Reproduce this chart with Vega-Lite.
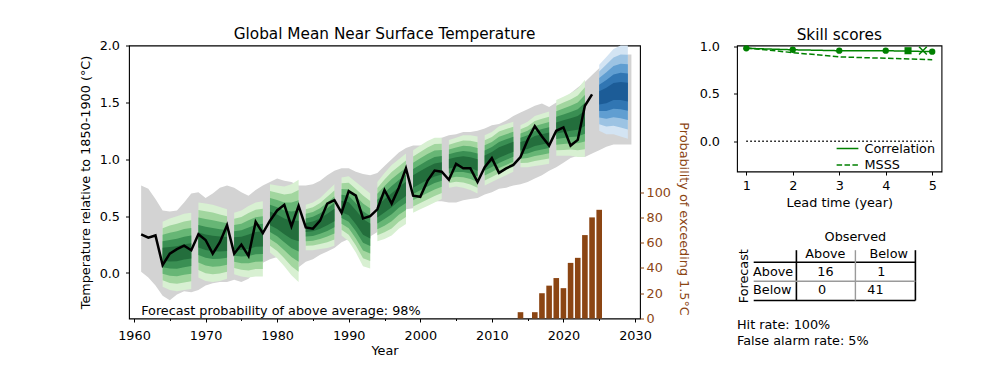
{
  "$schema": "https://vega.github.io/schema/vega-lite/v6.json",
  "background": "white",
  "padding": {"left": 78, "top": 26.5, "right": 0, "bottom": 0},
  "config": {
    "font": "DejaVu Sans",
    "view": {"stroke": "black", "strokeWidth": 1.1},
    "axis": {"labelFont": "DejaVu Sans", "labelFontSize": 12.8, "labelColor": "black", "titleFont": "DejaVu Sans", "titleFontSize": 12.8, "titleFontWeight": "normal", "titleColor": "black", "tickColor": "black", "tickSize": 3.5, "tickWidth": 1, "domain": false, "grid": false, "labelPadding": 4, "labelFlush": false, "labelOverlap": false, "titlePadding": 5},
    "title": {"font": "DejaVu Sans", "fontSize": 15.3, "fontWeight": "normal", "color": "black", "frame": "group", "anchor": "middle", "baseline": "alphabetic", "offset": -3},
    "text": {"font": "DejaVu Sans", "fontSize": 12.8, "color": "black"},
    "legend": {"labelFont": "DejaVu Sans", "labelFontSize": 12.8, "labelColor": "black"}
  },
  "datasets": {
    "grey": [
      {"year": 1961, "lo": 0.01, "hi": 0.77}, {"year": 1962, "lo": -0.04, "hi": 0.74}, {"year": 1963, "lo": -0.11, "hi": 0.65},
      {"year": 1964, "lo": -0.2, "hi": 0.55}, {"year": 1965, "lo": -0.24, "hi": 0.54}, {"year": 1966, "lo": -0.19, "hi": 0.55},
      {"year": 1967, "lo": -0.16, "hi": 0.62}, {"year": 1968, "lo": -0.17, "hi": 0.7}, {"year": 1969, "lo": -0.15, "hi": 0.71},
      {"year": 1970, "lo": -0.11, "hi": 0.66}, {"year": 1971, "lo": -0.09, "hi": 0.7}, {"year": 1972, "lo": -0.08, "hi": 0.75},
      {"year": 1973, "lo": -0.08, "hi": 0.77}, {"year": 1974, "lo": -0.06, "hi": 0.75}, {"year": 1975, "lo": -0.08, "hi": 0.71},
      {"year": 1976, "lo": -0.05, "hi": 0.68}, {"year": 1977, "lo": 0.02, "hi": 0.73}, {"year": 1978, "lo": 0.09, "hi": 0.77},
      {"year": 1979, "lo": 0.12, "hi": 0.8}, {"year": 1980, "lo": 0.14, "hi": 0.83}, {"year": 1981, "lo": 0.15, "hi": 0.81},
      {"year": 1982, "lo": 0.12, "hi": 0.8}, {"year": 1983, "lo": 0.05, "hi": 0.77}, {"year": 1984, "lo": 0.1, "hi": 0.77},
      {"year": 1985, "lo": 0.12, "hi": 0.78}, {"year": 1986, "lo": 0.16, "hi": 0.81}, {"year": 1987, "lo": 0.19, "hi": 0.86},
      {"year": 1988, "lo": 0.22, "hi": 0.9}, {"year": 1989, "lo": 0.27, "hi": 0.92}, {"year": 1990, "lo": 0.3, "hi": 0.92},
      {"year": 1991, "lo": 0.29, "hi": 0.89}, {"year": 1992, "lo": 0.3, "hi": 0.87}, {"year": 1993, "lo": 0.32, "hi": 0.86},
      {"year": 1994, "lo": 0.36, "hi": 0.88}, {"year": 1995, "lo": 0.42, "hi": 0.94}, {"year": 1996, "lo": 0.47, "hi": 1.0},
      {"year": 1997, "lo": 0.52, "hi": 1.06}, {"year": 1998, "lo": 0.56, "hi": 1.1}, {"year": 1999, "lo": 0.57, "hi": 1.12},
      {"year": 2000, "lo": 0.6, "hi": 1.12}, {"year": 2001, "lo": 0.63, "hi": 1.14}, {"year": 2002, "lo": 0.63, "hi": 1.18},
      {"year": 2003, "lo": 0.63, "hi": 1.19}, {"year": 2004, "lo": 0.62, "hi": 1.21}, {"year": 2005, "lo": 0.62, "hi": 1.22},
      {"year": 2006, "lo": 0.64, "hi": 1.24}, {"year": 2007, "lo": 0.65, "hi": 1.24}, {"year": 2008, "lo": 0.66, "hi": 1.25},
      {"year": 2009, "lo": 0.69, "hi": 1.27}, {"year": 2010, "lo": 0.71, "hi": 1.3}, {"year": 2011, "lo": 0.74, "hi": 1.31},
      {"year": 2012, "lo": 0.75, "hi": 1.34}, {"year": 2013, "lo": 0.77, "hi": 1.38}, {"year": 2014, "lo": 0.78, "hi": 1.41},
      {"year": 2015, "lo": 0.8, "hi": 1.44}, {"year": 2016, "lo": 0.83, "hi": 1.47}, {"year": 2017, "lo": 0.86, "hi": 1.49},
      {"year": 2018, "lo": 0.9, "hi": 1.46}, {"year": 2019, "lo": 0.93, "hi": 1.5}, {"year": 2020, "lo": 0.97, "hi": 1.53},
      {"year": 2021, "lo": 1.01, "hi": 1.58}, {"year": 2022, "lo": 1.03, "hi": 1.63}, {"year": 2023, "lo": 1.02, "hi": 1.68},
      {"year": 2024, "lo": 1.05, "hi": 1.74}, {"year": 2025, "lo": 1.08, "hi": 1.8}, {"year": 2026, "lo": 1.11, "hi": 1.85},
      {"year": 2027, "lo": 1.13, "hi": 1.89}, {"year": 2028, "lo": 1.13, "hi": 1.91}, {"year": 2029, "lo": 1.13, "hi": 1.92},
      {"year": 2029.5, "lo": 1.13, "hi": 1.92}
    ],
    "bands": [
      {"s": "A", "k": "h", "year": 1964, "a1": -0.12, "b1": 0.45, "a2": -0.063, "b2": 0.393, "a3": -0.006, "b3": 0.336, "a4": 0.051, "b4": 0.279, "a5": 0.108, "b5": 0.222},
      {"s": "A", "k": "h", "year": 1965, "a1": -0.15, "b1": 0.48, "a2": -0.087, "b2": 0.417, "a3": -0.024, "b3": 0.354, "a4": 0.039, "b4": 0.291, "a5": 0.102, "b5": 0.228},
      {"s": "A", "k": "h", "year": 1966, "a1": -0.16, "b1": 0.5, "a2": -0.094, "b2": 0.434, "a3": -0.028, "b3": 0.368, "a4": 0.038, "b4": 0.302, "a5": 0.104, "b5": 0.236},
      {"s": "A", "k": "h", "year": 1967, "a1": -0.15, "b1": 0.52, "a2": -0.083, "b2": 0.453, "a3": -0.016, "b3": 0.386, "a4": 0.051, "b4": 0.319, "a5": 0.118, "b5": 0.252},
      {"s": "A", "k": "h", "year": 1968, "a1": -0.14, "b1": 0.53, "a2": -0.073, "b2": 0.463, "a3": -0.006, "b3": 0.396, "a4": 0.061, "b4": 0.329, "a5": 0.128, "b5": 0.262},
      {"s": "B", "k": "h", "year": 1969, "a1": -0.04, "b1": 0.62, "a2": 0.026, "b2": 0.554, "a3": 0.092, "b3": 0.488, "a4": 0.158, "b4": 0.422, "a5": 0.224, "b5": 0.356},
      {"s": "B", "k": "h", "year": 1970, "a1": -0.07, "b1": 0.61, "a2": -0.002, "b2": 0.542, "a3": 0.066, "b3": 0.474, "a4": 0.134, "b4": 0.406, "a5": 0.202, "b5": 0.338},
      {"s": "B", "k": "h", "year": 1971, "a1": -0.08, "b1": 0.6, "a2": -0.012, "b2": 0.532, "a3": 0.056, "b3": 0.464, "a4": 0.124, "b4": 0.396, "a5": 0.192, "b5": 0.328},
      {"s": "B", "k": "h", "year": 1972, "a1": -0.07, "b1": 0.58, "a2": -0.005, "b2": 0.515, "a3": 0.06, "b3": 0.45, "a4": 0.125, "b4": 0.385, "a5": 0.19, "b5": 0.32},
      {"s": "B", "k": "h", "year": 1973, "a1": -0.05, "b1": 0.56, "a2": 0.011, "b2": 0.499, "a3": 0.072, "b3": 0.438, "a4": 0.133, "b4": 0.377, "a5": 0.194, "b5": 0.316},
      {"s": "C", "k": "h", "year": 1974, "a1": -0.01, "b1": 0.53, "a2": 0.044, "b2": 0.476, "a3": 0.098, "b3": 0.422, "a4": 0.152, "b4": 0.368, "a5": 0.206, "b5": 0.314},
      {"s": "C", "k": "h", "year": 1975, "a1": -0.03, "b1": 0.55, "a2": 0.028, "b2": 0.492, "a3": 0.086, "b3": 0.434, "a4": 0.144, "b4": 0.376, "a5": 0.202, "b5": 0.318},
      {"s": "C", "k": "h", "year": 1976, "a1": -0.04, "b1": 0.59, "a2": 0.023, "b2": 0.527, "a3": 0.086, "b3": 0.464, "a4": 0.149, "b4": 0.401, "a5": 0.212, "b5": 0.338},
      {"s": "C", "k": "h", "year": 1977, "a1": -0.03, "b1": 0.62, "a2": 0.035, "b2": 0.555, "a3": 0.1, "b3": 0.49, "a4": 0.165, "b4": 0.425, "a5": 0.23, "b5": 0.36},
      {"s": "C", "k": "h", "year": 1978, "a1": -0.03, "b1": 0.63, "a2": 0.036, "b2": 0.564, "a3": 0.102, "b3": 0.498, "a4": 0.168, "b4": 0.432, "a5": 0.234, "b5": 0.366},
      {"s": "D", "k": "h", "year": 1979, "a1": 0.18, "b1": 0.78, "a2": 0.24, "b2": 0.72, "a3": 0.3, "b3": 0.66, "a4": 0.36, "b4": 0.6, "a5": 0.42, "b5": 0.54},
      {"s": "D", "k": "h", "year": 1980, "a1": 0.13, "b1": 0.77, "a2": 0.194, "b2": 0.706, "a3": 0.258, "b3": 0.642, "a4": 0.322, "b4": 0.578, "a5": 0.386, "b5": 0.514},
      {"s": "D", "k": "h", "year": 1981, "a1": 0.06, "b1": 0.76, "a2": 0.13, "b2": 0.69, "a3": 0.2, "b3": 0.62, "a4": 0.27, "b4": 0.55, "a5": 0.34, "b5": 0.48},
      {"s": "D", "k": "h", "year": 1982, "a1": -0.02, "b1": 0.78, "a2": 0.06, "b2": 0.7, "a3": 0.14, "b3": 0.62, "a4": 0.22, "b4": 0.54, "a5": 0.3, "b5": 0.46},
      {"s": "D", "k": "h", "year": 1983, "a1": -0.08, "b1": 0.82, "a2": 0.01, "b2": 0.73, "a3": 0.1, "b3": 0.64, "a4": 0.19, "b4": 0.55, "a5": 0.28, "b5": 0.46},
      {"s": "E", "k": "h", "year": 1984, "a1": 0.2, "b1": 0.6, "a2": 0.24, "b2": 0.56, "a3": 0.28, "b3": 0.52, "a4": 0.32, "b4": 0.48, "a5": 0.36, "b5": 0.44},
      {"s": "E", "k": "h", "year": 1985, "a1": 0.2, "b1": 0.62, "a2": 0.242, "b2": 0.578, "a3": 0.284, "b3": 0.536, "a4": 0.326, "b4": 0.494, "a5": 0.368, "b5": 0.452},
      {"s": "E", "k": "h", "year": 1986, "a1": 0.21, "b1": 0.66, "a2": 0.255, "b2": 0.615, "a3": 0.3, "b3": 0.57, "a4": 0.345, "b4": 0.525, "a5": 0.39, "b5": 0.48},
      {"s": "E", "k": "h", "year": 1987, "a1": 0.22, "b1": 0.72, "a2": 0.27, "b2": 0.67, "a3": 0.32, "b3": 0.62, "a4": 0.37, "b4": 0.57, "a5": 0.42, "b5": 0.52},
      {"s": "E", "k": "h", "year": 1988, "a1": 0.24, "b1": 0.78, "a2": 0.294, "b2": 0.726, "a3": 0.348, "b3": 0.672, "a4": 0.402, "b4": 0.618, "a5": 0.456, "b5": 0.564},
      {"s": "F", "k": "h", "year": 1989, "a1": 0.33, "b1": 0.84, "a2": 0.381, "b2": 0.789, "a3": 0.432, "b3": 0.738, "a4": 0.483, "b4": 0.687, "a5": 0.534, "b5": 0.636},
      {"s": "F", "k": "h", "year": 1990, "a1": 0.28, "b1": 0.85, "a2": 0.337, "b2": 0.793, "a3": 0.394, "b3": 0.736, "a4": 0.451, "b4": 0.679, "a5": 0.508, "b5": 0.622},
      {"s": "F", "k": "h", "year": 1991, "a1": 0.18, "b1": 0.8, "a2": 0.242, "b2": 0.738, "a3": 0.304, "b3": 0.676, "a4": 0.366, "b4": 0.614, "a5": 0.428, "b5": 0.552},
      {"s": "F", "k": "h", "year": 1992, "a1": 0.06, "b1": 0.75, "a2": 0.129, "b2": 0.681, "a3": 0.198, "b3": 0.612, "a4": 0.267, "b4": 0.543, "a5": 0.336, "b5": 0.474},
      {"s": "F", "k": "h", "year": 1993, "a1": 0.04, "b1": 0.7, "a2": 0.106, "b2": 0.634, "a3": 0.172, "b3": 0.568, "a4": 0.238, "b4": 0.502, "a5": 0.304, "b5": 0.436},
      {"s": "G", "k": "h", "year": 1994, "a1": 0.28, "b1": 0.8, "a2": 0.332, "b2": 0.748, "a3": 0.384, "b3": 0.696, "a4": 0.436, "b4": 0.644, "a5": 0.488, "b5": 0.592},
      {"s": "G", "k": "h", "year": 1995, "a1": 0.3, "b1": 0.88, "a2": 0.358, "b2": 0.822, "a3": 0.416, "b3": 0.764, "a4": 0.474, "b4": 0.706, "a5": 0.532, "b5": 0.648},
      {"s": "G", "k": "h", "year": 1996, "a1": 0.33, "b1": 0.95, "a2": 0.392, "b2": 0.888, "a3": 0.454, "b3": 0.826, "a4": 0.516, "b4": 0.764, "a5": 0.578, "b5": 0.702},
      {"s": "G", "k": "h", "year": 1997, "a1": 0.39, "b1": 1.0, "a2": 0.451, "b2": 0.939, "a3": 0.512, "b3": 0.878, "a4": 0.573, "b4": 0.817, "a5": 0.634, "b5": 0.756},
      {"s": "G", "k": "h", "year": 1998, "a1": 0.43, "b1": 1.05, "a2": 0.492, "b2": 0.988, "a3": 0.554, "b3": 0.926, "a4": 0.616, "b4": 0.864, "a5": 0.678, "b5": 0.802},
      {"s": "H", "k": "h", "year": 1999, "a1": 0.53, "b1": 1.08, "a2": 0.585, "b2": 1.025, "a3": 0.64, "b3": 0.97, "a4": 0.695, "b4": 0.915, "a5": 0.75, "b5": 0.86},
      {"s": "H", "k": "h", "year": 2000, "a1": 0.56, "b1": 1.12, "a2": 0.616, "b2": 1.064, "a3": 0.672, "b3": 1.008, "a4": 0.728, "b4": 0.952, "a5": 0.784, "b5": 0.896},
      {"s": "H", "k": "h", "year": 2001, "a1": 0.59, "b1": 1.16, "a2": 0.647, "b2": 1.103, "a3": 0.704, "b3": 1.046, "a4": 0.761, "b4": 0.989, "a5": 0.818, "b5": 0.932},
      {"s": "H", "k": "h", "year": 2002, "a1": 0.62, "b1": 1.19, "a2": 0.677, "b2": 1.133, "a3": 0.734, "b3": 1.076, "a4": 0.791, "b4": 1.019, "a5": 0.848, "b5": 0.962},
      {"s": "H", "k": "h", "year": 2003, "a1": 0.65, "b1": 1.19, "a2": 0.704, "b2": 1.136, "a3": 0.758, "b3": 1.082, "a4": 0.812, "b4": 1.028, "a5": 0.866, "b5": 0.974},
      {"s": "I", "k": "h", "year": 2004, "a1": 0.75, "b1": 1.17, "a2": 0.792, "b2": 1.128, "a3": 0.834, "b3": 1.086, "a4": 0.876, "b4": 1.044, "a5": 0.918, "b5": 1.002},
      {"s": "I", "k": "h", "year": 2005, "a1": 0.76, "b1": 1.19, "a2": 0.803, "b2": 1.147, "a3": 0.846, "b3": 1.104, "a4": 0.889, "b4": 1.061, "a5": 0.932, "b5": 1.018},
      {"s": "I", "k": "h", "year": 2006, "a1": 0.75, "b1": 1.21, "a2": 0.796, "b2": 1.164, "a3": 0.842, "b3": 1.118, "a4": 0.888, "b4": 1.072, "a5": 0.934, "b5": 1.026},
      {"s": "I", "k": "h", "year": 2007, "a1": 0.73, "b1": 1.21, "a2": 0.778, "b2": 1.162, "a3": 0.826, "b3": 1.114, "a4": 0.874, "b4": 1.066, "a5": 0.922, "b5": 1.018},
      {"s": "I", "k": "h", "year": 2008, "a1": 0.7, "b1": 1.2, "a2": 0.75, "b2": 1.15, "a3": 0.8, "b3": 1.1, "a4": 0.85, "b4": 1.05, "a5": 0.9, "b5": 1.0},
      {"s": "J", "k": "h", "year": 2009, "a1": 0.77, "b1": 1.21, "a2": 0.814, "b2": 1.166, "a3": 0.858, "b3": 1.122, "a4": 0.902, "b4": 1.078, "a5": 0.946, "b5": 1.034},
      {"s": "J", "k": "h", "year": 2010, "a1": 0.8, "b1": 1.24, "a2": 0.844, "b2": 1.196, "a3": 0.888, "b3": 1.152, "a4": 0.932, "b4": 1.108, "a5": 0.976, "b5": 1.064},
      {"s": "J", "k": "h", "year": 2011, "a1": 0.83, "b1": 1.29, "a2": 0.876, "b2": 1.244, "a3": 0.922, "b3": 1.198, "a4": 0.968, "b4": 1.152, "a5": 1.014, "b5": 1.106},
      {"s": "J", "k": "h", "year": 2012, "a1": 0.86, "b1": 1.31, "a2": 0.905, "b2": 1.265, "a3": 0.95, "b3": 1.22, "a4": 0.995, "b4": 1.175, "a5": 1.04, "b5": 1.13},
      {"s": "J", "k": "h", "year": 2013, "a1": 0.89, "b1": 1.33, "a2": 0.934, "b2": 1.286, "a3": 0.978, "b3": 1.242, "a4": 1.022, "b4": 1.198, "a5": 1.066, "b5": 1.154},
      {"s": "K", "k": "h", "year": 2014, "a1": 0.93, "b1": 1.3, "a2": 0.967, "b2": 1.263, "a3": 1.004, "b3": 1.226, "a4": 1.041, "b4": 1.189, "a5": 1.078, "b5": 1.152},
      {"s": "K", "k": "h", "year": 2015, "a1": 0.93, "b1": 1.33, "a2": 0.97, "b2": 1.29, "a3": 1.01, "b3": 1.25, "a4": 1.05, "b4": 1.21, "a5": 1.09, "b5": 1.17},
      {"s": "K", "k": "h", "year": 2016, "a1": 0.94, "b1": 1.38, "a2": 0.984, "b2": 1.336, "a3": 1.028, "b3": 1.292, "a4": 1.072, "b4": 1.248, "a5": 1.116, "b5": 1.204},
      {"s": "K", "k": "h", "year": 2017, "a1": 0.95, "b1": 1.4, "a2": 0.995, "b2": 1.355, "a3": 1.04, "b3": 1.31, "a4": 1.085, "b4": 1.265, "a5": 1.13, "b5": 1.22},
      {"s": "K", "k": "h", "year": 2018, "a1": 0.96, "b1": 1.42, "a2": 1.006, "b2": 1.374, "a3": 1.052, "b3": 1.328, "a4": 1.098, "b4": 1.282, "a5": 1.144, "b5": 1.236},
      {"s": "L", "k": "h", "year": 2019, "a1": 1.03, "b1": 1.52, "a2": 1.079, "b2": 1.471, "a3": 1.128, "b3": 1.422, "a4": 1.177, "b4": 1.373, "a5": 1.226, "b5": 1.324},
      {"s": "L", "k": "h", "year": 2020, "a1": 1.03, "b1": 1.55, "a2": 1.082, "b2": 1.498, "a3": 1.134, "b3": 1.446, "a4": 1.186, "b4": 1.394, "a5": 1.238, "b5": 1.342},
      {"s": "L", "k": "h", "year": 2021, "a1": 1.03, "b1": 1.58, "a2": 1.085, "b2": 1.525, "a3": 1.14, "b3": 1.47, "a4": 1.195, "b4": 1.415, "a5": 1.25, "b5": 1.36},
      {"s": "L", "k": "h", "year": 2022, "a1": 1.02, "b1": 1.62, "a2": 1.08, "b2": 1.56, "a3": 1.14, "b3": 1.5, "a4": 1.2, "b4": 1.44, "a5": 1.26, "b5": 1.38},
      {"s": "L", "k": "h", "year": 2023, "a1": 1.02, "b1": 1.7, "a2": 1.088, "b2": 1.632, "a3": 1.156, "b3": 1.564, "a4": 1.224, "b4": 1.496, "a5": 1.292, "b5": 1.428},
      {"s": "M", "k": "f", "year": 2025, "a1": 1.25, "b1": 1.83, "a2": 1.308, "b2": 1.772, "a3": 1.366, "b3": 1.714, "a4": 1.424, "b4": 1.656, "a5": 1.482, "b5": 1.598},
      {"s": "M", "k": "f", "year": 2026, "a1": 1.22, "b1": 1.9, "a2": 1.288, "b2": 1.832, "a3": 1.356, "b3": 1.764, "a4": 1.424, "b4": 1.696, "a5": 1.492, "b5": 1.628},
      {"s": "M", "k": "f", "year": 2027, "a1": 1.22, "b1": 1.97, "a2": 1.295, "b2": 1.895, "a3": 1.37, "b3": 1.82, "a4": 1.445, "b4": 1.745, "a5": 1.52, "b5": 1.67},
      {"s": "M", "k": "f", "year": 2028, "a1": 1.2, "b1": 2.0, "a2": 1.28, "b2": 1.92, "a3": 1.36, "b3": 1.84, "a4": 1.44, "b4": 1.76, "a5": 1.52, "b5": 1.68},
      {"s": "M", "k": "f", "year": 2029, "a1": 1.18, "b1": 2.0, "a2": 1.262, "b2": 1.918, "a3": 1.344, "b3": 1.836, "a4": 1.426, "b4": 1.754, "a5": 1.508, "b5": 1.672}
    ],
    "obs": [
      {"year": 1961, "temp": 0.34}, {"year": 1962, "temp": 0.31}, {"year": 1963, "temp": 0.33}, {"year": 1964, "temp": 0.07},
      {"year": 1965, "temp": 0.17}, {"year": 1966, "temp": 0.21}, {"year": 1967, "temp": 0.24}, {"year": 1968, "temp": 0.2},
      {"year": 1969, "temp": 0.34}, {"year": 1970, "temp": 0.29}, {"year": 1971, "temp": 0.17}, {"year": 1972, "temp": 0.27},
      {"year": 1973, "temp": 0.42}, {"year": 1974, "temp": 0.17}, {"year": 1975, "temp": 0.25}, {"year": 1976, "temp": 0.15},
      {"year": 1977, "temp": 0.45}, {"year": 1978, "temp": 0.35}, {"year": 1979, "temp": 0.46}, {"year": 1980, "temp": 0.55},
      {"year": 1981, "temp": 0.6}, {"year": 1982, "temp": 0.41}, {"year": 1983, "temp": 0.59}, {"year": 1984, "temp": 0.4},
      {"year": 1985, "temp": 0.39}, {"year": 1986, "temp": 0.46}, {"year": 1987, "temp": 0.61}, {"year": 1988, "temp": 0.64},
      {"year": 1989, "temp": 0.53}, {"year": 1990, "temp": 0.72}, {"year": 1991, "temp": 0.68}, {"year": 1992, "temp": 0.48},
      {"year": 1993, "temp": 0.5}, {"year": 1994, "temp": 0.56}, {"year": 1995, "temp": 0.73}, {"year": 1996, "temp": 0.61},
      {"year": 1997, "temp": 0.75}, {"year": 1998, "temp": 0.92}, {"year": 1999, "temp": 0.68}, {"year": 2000, "temp": 0.67},
      {"year": 2001, "temp": 0.81}, {"year": 2002, "temp": 0.9}, {"year": 2003, "temp": 0.89}, {"year": 2004, "temp": 0.82},
      {"year": 2005, "temp": 0.96}, {"year": 2006, "temp": 0.92}, {"year": 2007, "temp": 0.92}, {"year": 2008, "temp": 0.8},
      {"year": 2009, "temp": 0.93}, {"year": 2010, "temp": 1.01}, {"year": 2011, "temp": 0.88}, {"year": 2012, "temp": 0.92},
      {"year": 2013, "temp": 0.95}, {"year": 2014, "temp": 1.02}, {"year": 2015, "temp": 1.17}, {"year": 2016, "temp": 1.29},
      {"year": 2017, "temp": 1.2}, {"year": 2018, "temp": 1.12}, {"year": 2019, "temp": 1.25}, {"year": 2020, "temp": 1.28},
      {"year": 2021, "temp": 1.12}, {"year": 2022, "temp": 1.17}, {"year": 2023, "temp": 1.47}, {"year": 2024, "temp": 1.57}
    ],
    "note": [{"year": 1961, "temp": -0.335, "label": "Forecast probability of above average: 98%"}],
    "prob": [
      {"year": 2014, "p": 5}, {"year": 2016, "p": 5}, {"year": 2017, "p": 20}, {"year": 2018, "p": 26},
      {"year": 2019, "p": 32}, {"year": 2020, "p": 24}, {"year": 2021, "p": 44}, {"year": 2022, "p": 48},
      {"year": 2023, "p": 66}, {"year": 2024, "p": 80}, {"year": 2025, "p": 86}
    ],
    "skill": [
      {"lead": 1, "metric": "Correlation", "value": 0.98}, {"lead": 2, "metric": "Correlation", "value": 0.965},
      {"lead": 3, "metric": "Correlation", "value": 0.955}, {"lead": 4, "metric": "Correlation", "value": 0.955},
      {"lead": 5, "metric": "Correlation", "value": 0.945},
      {"lead": 1, "metric": "MSSS", "value": 0.985}, {"lead": 2, "metric": "MSSS", "value": 0.935},
      {"lead": 3, "metric": "MSSS", "value": 0.89}, {"lead": 4, "metric": "MSSS", "value": 0.875},
      {"lead": 5, "metric": "MSSS", "value": 0.86}
    ],
    "zero": [{"lead": 1, "value": 0}, {"lead": 5, "value": 0}],
    "tlines": [
      {"kind": "major", "x1": 5.94, "x2": 5.94, "y1": 2.57, "y2": 7.6},
      {"kind": "major", "x1": 17.84, "x2": 17.84, "y1": 2.57, "y2": 7.6},
      {"kind": "major", "x1": 1.67, "x2": 17.84, "y1": 3.77, "y2": 3.77},
      {"kind": "major", "x1": 1.67, "x2": 17.84, "y1": 7.6, "y2": 7.6},
      {"kind": "minor", "x1": 11.84, "x2": 11.84, "y1": 2.57, "y2": 7.6},
      {"kind": "minor", "x1": 1.67, "x2": 17.84, "y1": 5.67, "y2": 5.67}
    ],
    "ttext": [
      {"pos": "c", "tx": 11.84, "ty": 1.23, "label": "Observed"},
      {"pos": "c", "tx": 8.84, "ty": 2.9, "label": "Above"},
      {"pos": "c", "tx": 15.17, "ty": 2.9, "label": "Below"},
      {"pos": "c", "tx": 8.84, "ty": 4.77, "label": "16"},
      {"pos": "c", "tx": 14.44, "ty": 4.77, "label": "1"},
      {"pos": "c", "tx": 8.5, "ty": 6.5, "label": "0"},
      {"pos": "c", "tx": 13.84, "ty": 6.5, "label": "41"},
      {"pos": "l", "tx": 1.6, "ty": 4.77, "label": "Above"},
      {"pos": "l", "tx": 1.6, "ty": 6.5, "label": "Below"},
      {"pos": "l", "tx": 0, "ty": 10.0, "label": "Hit rate: 100%"},
      {"pos": "l", "tx": 0, "ty": 11.67, "label": "False alarm rate:  5%"},
      {"pos": "r", "tx": 0.67, "ty": 5.17, "label": "Forecast"}
    ]
  },
  "spacing": 8,
  "resolve": {"scale": {"strokeDash": "independent"}, "legend": {"strokeDash": "independent"}},
  "hconcat": [
    {
      "title": "Global Mean Near Surface Temperature",
      "width": 511,
      "height": 273,
      "resolve": {"scale": {"y": "independent"}, "axis": {"x": "independent"}},
      "layer": [
        {
          "encoding": {
            "x": {"field": "year", "type": "quantitative", "scale": {"domain": [1960, 2030], "nice": false, "zero": false},
                  "axis": {"title": "Year", "values": [1960, 1970, 1980, 1990, 2000, 2010, 2020, 2030], "format": "d", "labelPadding": 7, "titlePadding": 3}}
          },
          "layer": [
            {
              "data": {"name": "grey"},
              "mark": {"type": "area", "color": "#d3d3d3"},
              "encoding": {
                "y": {"field": "lo", "type": "quantitative", "scale": {"domain": [-0.4, 2.0], "nice": false, "zero": false},
                      "axis": {"title": "Temperature relative to 1850-1900 (°C)", "values": [0, 0.5, 1, 1.5, 2], "format": ".1f", "labelPadding": 6, "titlePadding": 7}},
                "y2": {"field": "hi"}
              }
            },
            {
              "data": {"name": "bands"},
              "mark": {"type": "area"},
              "encoding": {
                "y": {"field": "a1", "type": "quantitative", "scale": {"domain": [-0.4, 2.0], "nice": false, "zero": false},
                      "axis": {"title": "Temperature relative to 1850-1900 (°C)", "values": [0, 0.5, 1, 1.5, 2], "format": ".1f", "labelPadding": 6, "titlePadding": 7}},
                "y2": {"field": "b1"},
                "detail": {"field": "s"},
                "color": {"condition": {"test": "datum.k === 'f'", "value": "#d3e4f3"}, "value": "#d8f0d2"}
              }
            },
            {
              "data": {"name": "bands"},
              "mark": {"type": "area"},
              "encoding": {
                "y": {"field": "a2", "type": "quantitative", "scale": {"domain": [-0.4, 2.0], "nice": false, "zero": false},
                      "axis": {"title": "Temperature relative to 1850-1900 (°C)", "values": [0, 0.5, 1, 1.5, 2], "format": ".1f", "labelPadding": 6, "titlePadding": 7}},
                "y2": {"field": "b2"},
                "detail": {"field": "s"},
                "color": {"condition": {"test": "datum.k === 'f'", "value": "#9cc3e3"}, "value": "#a2d69f"}
              }
            },
            {
              "data": {"name": "bands"},
              "mark": {"type": "area"},
              "encoding": {
                "y": {"field": "a3", "type": "quantitative", "scale": {"domain": [-0.4, 2.0], "nice": false, "zero": false},
                      "axis": {"title": "Temperature relative to 1850-1900 (°C)", "values": [0, 0.5, 1, 1.5, 2], "format": ".1f", "labelPadding": 6, "titlePadding": 7}},
                "y2": {"field": "b3"},
                "detail": {"field": "s"},
                "color": {"condition": {"test": "datum.k === 'f'", "value": "#609ed1"}, "value": "#67b675"}
              }
            },
            {
              "data": {"name": "bands"},
              "mark": {"type": "area"},
              "encoding": {
                "y": {"field": "a4", "type": "quantitative", "scale": {"domain": [-0.4, 2.0], "nice": false, "zero": false},
                      "axis": {"title": "Temperature relative to 1850-1900 (°C)", "values": [0, 0.5, 1, 1.5, 2], "format": ".1f", "labelPadding": 6, "titlePadding": 7}},
                "y2": {"field": "b4"},
                "detail": {"field": "s"},
                "color": {"condition": {"test": "datum.k === 'f'", "value": "#3176b3"}, "value": "#3a8f53"}
              }
            },
            {
              "data": {"name": "bands"},
              "mark": {"type": "area"},
              "encoding": {
                "y": {"field": "a5", "type": "quantitative", "scale": {"domain": [-0.4, 2.0], "nice": false, "zero": false},
                      "axis": {"title": "Temperature relative to 1850-1900 (°C)", "values": [0, 0.5, 1, 1.5, 2], "format": ".1f", "labelPadding": 6, "titlePadding": 7}},
                "y2": {"field": "b5"},
                "detail": {"field": "s"},
                "color": {"condition": {"test": "datum.k === 'f'", "value": "#1c5c97"}, "value": "#236e3c"}
              }
            },
            {
              "data": {"name": "obs"},
              "mark": {"type": "line", "color": "black", "strokeWidth": 2.5},
              "encoding": {
                "y": {"field": "temp", "type": "quantitative", "scale": {"domain": [-0.4, 2.0], "nice": false, "zero": false},
                      "axis": {"title": "Temperature relative to 1850-1900 (°C)", "values": [0, 0.5, 1, 1.5, 2], "format": ".1f", "labelPadding": 6, "titlePadding": 7}}
              }
            },
            {
              "data": {"name": "note"},
              "mark": {"type": "text", "align": "left", "baseline": "middle", "fontSize": 12.8, "color": "black"},
              "encoding": {
                "y": {"field": "temp", "type": "quantitative", "scale": {"domain": [-0.4, 2.0], "nice": false, "zero": false},
                      "axis": {"title": "Temperature relative to 1850-1900 (°C)", "values": [0, 0.5, 1, 1.5, 2], "format": ".1f", "labelPadding": 6, "titlePadding": 7}},
                "text": {"field": "label"}
              }
            }
          ]
        },
        {
          "data": {"name": "prob"},
          "mark": {"type": "bar", "size": 5.6, "color": "#8b4513"},
          "encoding": {
            "x": {"field": "year", "type": "quantitative", "scale": {"domain": [1960, 2030], "nice": false, "zero": false},
                  "axis": {"orient": "bottom", "values": [1965, 1975, 1985, 1995, 2005, 2015, 2025], "labels": false, "tickSize": 2, "title": null}},
            "y": {"field": "p", "type": "quantitative", "scale": {"domain": [0, 216], "nice": false},
                  "axis": {"orient": "right", "title": "Probability of exceeding 1.5°C", "values": [0, 20, 40, 60, 80, 100], "labelColor": "#8b4513", "tickColor": "#8b4513", "titleColor": "#8b4513", "labelPadding": 2.5, "titlePadding": 6, "titleY": 173}}
          }
        }
      ]
    },
    {
      "vconcat": [
        {
          "title": "Skill scores",
          "width": 204.5,
          "height": 126,
          "encoding": {
            "x": {"field": "lead", "type": "quantitative", "scale": {"domain": [0.8, 5.2], "nice": false, "zero": false},
                  "axis": {"title": "Lead time (year)", "values": [1, 2, 3, 4, 5], "format": "d", "labelPadding": 4, "titlePadding": 5}},
            "y": {"field": "value", "type": "quantitative", "scale": {"domain": [-0.32, 1.01], "nice": false, "zero": false},
                  "axis": {"title": null, "values": [0, 0.5, 1], "format": ".1f", "labelPadding": 14}}
          },
          "layer": [
            {
              "data": {"name": "zero"},
              "mark": {"type": "line", "color": "black", "strokeWidth": 1.5, "strokeDash": [1.5, 2.5]}
            },
            {
              "data": {"name": "skill"},
              "mark": {"type": "line", "color": "green", "strokeWidth": 1.5},
              "encoding": {
                "strokeDash": {"field": "metric", "type": "nominal",
                  "scale": {"domain": ["Correlation", "MSSS"], "range": [[1, 0], [5.5, 2.4]]},
                  "legend": {"orient": "none", "legendX": 102.5, "legendY": 95, "title": null, "padding": 0, "symbolType": "M-1.6,0H1.6", "symbolStrokeColor": "green", "symbolStrokeWidth": 1.5, "symbolSize": 185, "labelOffset": 9, "rowPadding": 1.4, "labelFontSize": 12.8}}
              }
            },
            {
              "data": {"name": "skill"},
              "transform": [{"filter": "datum.metric === 'Correlation'"}],
              "mark": {"type": "circle", "color": "green", "size": 40, "opacity": 1}
            },
            {
              "data": {"values": [{"lead": 4.48, "value": 0.955}]},
              "mark": {"type": "square", "color": "green", "size": 50, "opacity": 1}
            },
            {
              "data": {"values": [{"lead": 4.8, "value": 0.955}]},
              "mark": {"type": "point", "shape": "M-1,-1L1,1M-1,1L1,-1", "filled": false, "stroke": "green", "strokeWidth": 1.5, "size": 60, "opacity": 1}
            }
          ]
        },
        {
          "width": 204.5,
          "height": 125,
          "view": {"stroke": null},
          "layer": [
            {
              "data": {"name": "tlines"},
              "transform": [{"filter": "datum.kind === 'major'"}],
              "mark": {"type": "rule", "color": "black", "strokeWidth": 1.6},
              "encoding": {
                "x": {"field": "x1", "type": "quantitative", "scale": {"domain": [0, 20.45], "nice": false, "zero": false}, "axis": null},
                "x2": {"field": "x2"},
                "y": {"field": "y1", "type": "quantitative", "scale": {"domain": [0, 12.5], "nice": false, "zero": false, "reverse": true}, "axis": null},
                "y2": {"field": "y2"}
              }
            },
            {
              "data": {"name": "tlines"},
              "transform": [{"filter": "datum.kind === 'minor'"}],
              "mark": {"type": "rule", "color": "#9a9a9a", "strokeWidth": 1.4},
              "encoding": {
                "x": {"field": "x1", "type": "quantitative", "axis": null},
                "x2": {"field": "x2"},
                "y": {"field": "y1", "type": "quantitative", "axis": null},
                "y2": {"field": "y2"}
              }
            },
            {
              "data": {"name": "ttext"},
              "transform": [{"filter": "datum.pos === 'c'"}],
              "mark": {"type": "text", "align": "center", "baseline": "middle", "fontSize": 12.8},
              "encoding": {
                "x": {"field": "tx", "type": "quantitative", "axis": null},
                "y": {"field": "ty", "type": "quantitative", "axis": null},
                "text": {"field": "label"}
              }
            },
            {
              "data": {"name": "ttext"},
              "transform": [{"filter": "datum.pos === 'l'"}],
              "mark": {"type": "text", "align": "left", "baseline": "middle", "fontSize": 12.8},
              "encoding": {
                "x": {"field": "tx", "type": "quantitative", "axis": null},
                "y": {"field": "ty", "type": "quantitative", "axis": null},
                "text": {"field": "label"}
              }
            },
            {
              "data": {"name": "ttext"},
              "transform": [{"filter": "datum.pos === 'r'"}],
              "mark": {"type": "text", "align": "center", "baseline": "middle", "angle": 270, "fontSize": 12.8},
              "encoding": {
                "x": {"field": "tx", "type": "quantitative", "axis": null},
                "y": {"field": "ty", "type": "quantitative", "axis": null},
                "text": {"field": "label"}
              }
            }
          ]
        }
      ],
      "spacing": 53,
      "bounds": "flush",
      "resolve": {"scale": {"strokeDash": "independent"}, "legend": {"strokeDash": "independent"}}
    }
  ]
}
